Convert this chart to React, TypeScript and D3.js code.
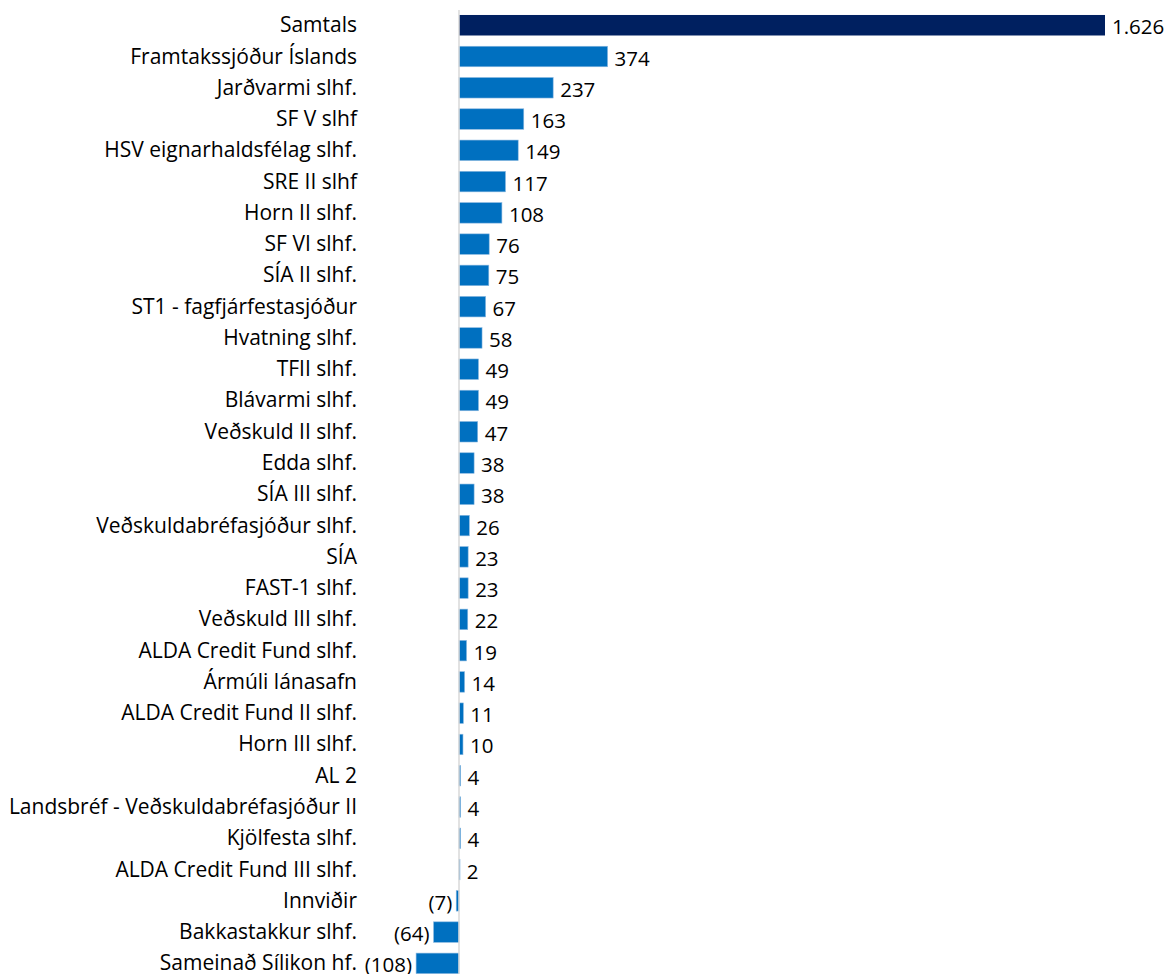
import React from "react";
import * as d3 from "d3";

const categories = [
  "Samtals",
  "Framtakssjóður Íslands",
  "Jarðvarmi slhf.",
  "SF V slhf",
  "HSV eignarhaldsfélag slhf.",
  "SRE II slhf",
  "Horn II slhf.",
  "SF VI slhf.",
  "SÍA II slhf.",
  "ST1 - fagfjárfestasjóður",
  "Hvatning slhf.",
  "TFII slhf.",
  "Blávarmi slhf.",
  "Veðskuld II slhf.",
  "Edda slhf.",
  "SÍA III slhf.",
  "Veðskuldabréfasjóður slhf.",
  "SÍA",
  "FAST-1 slhf.",
  "Veðskuld III slhf.",
  "ALDA Credit Fund slhf.",
  "Ármúli lánasafn",
  "ALDA Credit Fund II slhf.",
  "Horn III slhf.",
  "AL 2",
  "Landsbréf - Veðskuldabréfasjóður II",
  "Kjölfesta slhf.",
  "ALDA Credit Fund III slhf.",
  "Innviðir",
  "Bakkastakkur slhf.",
  "Sameinað Sílikon hf.",
];

const values = [
  1626, 374, 237, 163, 149, 117, 108, 76, 75, 67, 58, 49, 49, 47, 38, 38, 26,
  23, 23, 22, 19, 14, 11, 10, 4, 4, 4, 2, -7, -64, -108,
];

const W = 1170;
const H = 974;

const fmt = (v: number) => {
  const s = d3.format(",")(Math.abs(v)).replace(/,/g, ".");
  return v < 0 ? `(${s})` : s;
};

export default function App() {
  const x = d3.scaleLinear().domain([0, 1626]).range([459, 1105]);
  const y = d3
    .scaleBand<string>()
    .domain(categories)
    .range([9.6, 979])
    .paddingInner(0.344)
    .paddingOuter(0.172);

  const font = "'Open Sans', sans-serif";

  return (
    <svg
      width={W}
      height={H}
      style={{ position: "absolute", left: 0, top: 0, background: "#fff" }}
      fontFamily={font}
    >
      {categories.map((c, i) => {
        const v = values[i];
        const y0 = y(c)!;
        const bw = y.bandwidth();
        const x0 = x(Math.min(0, v));
        const x1 = x(Math.max(0, v));
        const cy = y0 + bw / 2;
        return (
          <g key={c}>
            <rect
              x={x0}
              y={y0}
              width={Math.max(x1 - x0, 1)}
              height={bw}
              fill={i === 0 ? "#002060" : "#0070c0"}
              stroke={i === 0 ? "none" : "#8ab8e0"}
              strokeWidth={0.6}
            />
            <text
              x={357}
              y={cy - 1}
              textAnchor="end"
              dominantBaseline="central"
              fontSize={21}
              fill="#000"
            >
              {c}
            </text>
            <text
              x={v < 0 ? x0 - 4 : x1 + 7}
              y={cy + 1}
              textAnchor={v < 0 ? "end" : "start"}
              dominantBaseline="central"
              fontSize={20.5}
              fill="#000"
            >
              {fmt(v)}
            </text>
          </g>
        );
      })}
      <line x1={x(0)} x2={x(0)} y1={10} y2={H} stroke="#d9d9d9" strokeWidth={1.5} />
    </svg>
  );
}
